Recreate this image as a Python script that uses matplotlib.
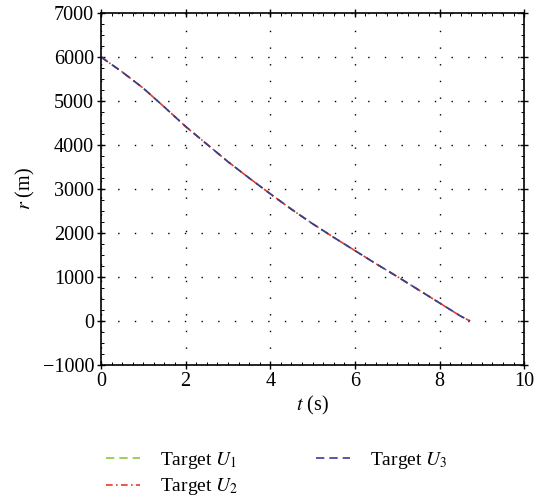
import numpy as np
import matplotlib.pyplot as plt
from matplotlib.ticker import MultipleLocator

plt.rcParams['font.family'] = ['Liberation Serif', 'DejaVu Serif']
plt.rcParams['mathtext.fontset'] = 'stix'

############################### Datos ###############################
t_s   = [0.0, 0.5, 1.0, 1.5, 2.0, 2.5, 3.0, 3.5, 4.0, 4.5, 5.0, 5.5, 6.0, 6.5, 7.0, 7.5, 8.0, 8.5, 8.72]
r_U1  = [6000, 5660, 5290, 4860, 4420, 4020, 3620, 3250, 2890, 2540, 2210, 1900, 1600, 1300, 1010, 710, 410, 110, 0]
r_U2  = [6000, 5660, 5290, 4860, 4420, 4020, 3620, 3250, 2890, 2540, 2210, 1900, 1600, 1300, 1010, 710, 410, 110, 0]
r_U3  = [6000, 5660, 5290, 4860, 4420, 4020, 3620, 3250, 2890, 2540, 2210, 1900, 1600, 1300, 1010, 710, 410, 110, 0]
labels = [r'Target $U_1$', r'Target $U_2$', r'Target $U_3$']

############################### Gráfica ###############################
fig = plt.figure(figsize=(5.46, 5.0), dpi=100)
ax = fig.add_axes([0.185, 0.27, 0.775, 0.704])

ax.plot(t_s, r_U1, color='#8dc63f', ls=(0, (5, 3)), lw=1.2, label=labels[0])
ax.plot(t_s, r_U2, color='#e8392d', ls=(0, (4, 2, 1, 2)), lw=1.2, label=labels[1])
ax.plot(t_s, r_U3, color='#3b3b98', ls=(0, (5, 3)), lw=1.2, label=labels[2])

ax.set_xlim(0, 10)
ax.set_ylim(-1000, 7000)
ax.xaxis.set_major_locator(MultipleLocator(2))
ax.xaxis.set_minor_locator(MultipleLocator(0.25))
ax.yaxis.set_major_locator(MultipleLocator(1000))
ax.yaxis.set_minor_locator(MultipleLocator(250))
ax.yaxis.set_major_formatter(plt.FuncFormatter(lambda v, p: ('\u2212%d' % -v) if v < 0 else '%d' % v))

ax.tick_params(which='major', direction='inout', length=6, width=1, labelsize=14.5,
               top=True, right=True, pad=2)
ax.tick_params(which='minor', direction='in', length=2.5, width=0.7, top=True, right=True)
for s in ax.spines.values():
    s.set_linewidth(1.2)

ax.grid(True, which='major', color='black', ls=(0, (1, 11)), lw=1.0)

ax.set_xlabel(r'$t$ (s)', fontsize=14.5, labelpad=2)
ax.set_ylabel(r'$r$ (m)', fontsize=14.5, labelpad=4)

fig.legend(loc='upper left', bbox_to_anchor=(0.17, 0.128), ncol=2, frameon=False,
           fontsize=14, handlelength=1.75, handletextpad=1.0, columnspacing=4.0,
           labelspacing=0.3, borderpad=0.2)

plt.savefig('out.png', dpi=100)
